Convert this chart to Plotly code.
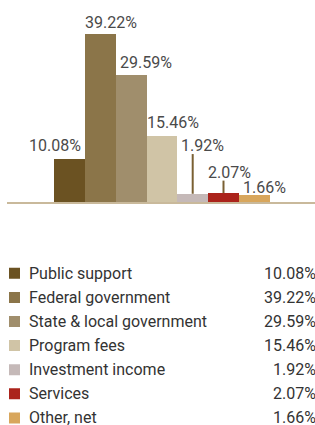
import plotly.graph_objects as go

# ---- data ----
categories = ["Public support", "Federal government", "State & local government",
              "Program fees", "Investment income", "Services", "Other, net"]
values = [10.08, 39.22, 29.59, 15.46, 1.92, 2.07, 1.66]
value_labels = ["10.08%", "39.22%", "29.59%", "15.46%", "1.92%", "2.07%", "1.66%"]

# ---- styles / layout ----
colors = ["#6b5222", "#8b7549", "#a08e6c", "#d0c4a6", "#c5b9b8", "#ab231b", "#d8a65c"]
label_xshift = [-15, 11, 15, 11, 10, 6, 10]
label_yshift = [2, 0, 1.5, 1.5, -3, -3, -4]
leader_top = [None, None, None, None, 11.2, 5.0, None]   # y (axis units) where leaders end
FONT = "Roboto"
W, H = 315, 425
base_px = 202
px_per_unit = 4.28
y_max = base_px / px_per_unit

idx = list(range(len(categories)))

fig = go.Figure()
fig.add_trace(go.Bar(
    x=idx, y=values, marker=dict(color=colors, line=dict(width=0)),
    width=1.0, hoverinfo="skip", showlegend=False, xaxis="x", yaxis="y"))

# legend squares on a second set of axes
fig.add_trace(go.Scatter(
    x=[14.5] * len(categories), y=idx, mode="markers",
    marker=dict(symbol="square", size=11, color=colors, line=dict(width=0)),
    hoverinfo="skip", showlegend=False, xaxis="x2", yaxis="y2"))

annotations = []
shapes = []
for i, (v, lab) in enumerate(zip(values, value_labels)):
    ytxt = leader_top[i] if leader_top[i] is not None else v
    annotations.append(dict(
        x=i, y=ytxt, xref="x", yref="y", text=lab, showarrow=False,
        xanchor="center", yanchor="bottom", xshift=label_xshift[i],
        yshift=label_yshift[i],
        font=dict(family=FONT, size=16, color="#4a4a4a")))
    if leader_top[i] is not None:
        shapes.append(dict(type="line", xref="x", yref="y", x0=i, x1=i, y0=v, y1=leader_top[i],
                           line=dict(color="#7a6033", width=2)))
    # legend text
    annotations.append(dict(
        x=27, y=i, xref="x2", yref="y2", text=categories[i], showarrow=False,
        xanchor="left", yanchor="middle",
        font=dict(family=FONT, size=16, color="#333333")))
    annotations.append(dict(
        x=315, y=i, xref="x2", yref="y2", text=lab, showarrow=False,
        xanchor="right", yanchor="middle", xshift=3,
        font=dict(family=FONT, size=16, color="#333333")))

# pixel geometry for axes
bar0_center = 69.5
bar_px = 30.8
x_left_px = 7
x_lo = -(bar0_center - x_left_px) / bar_px
x_hi = (W - bar0_center) / bar_px

row0 = 273.3
row_px = 24.1
leg_top_px = 212.5
y2_top = (leg_top_px - row0) / row_px
y2_bot = (H - row0) / row_px

fig.update_layout(
    width=W, height=H,
    margin=dict(l=0, r=0, t=0, b=0),
    paper_bgcolor="white", plot_bgcolor="white",
    bargap=0,
    xaxis=dict(domain=[x_left_px / W, 1], range=[x_lo, x_hi], showgrid=False,
               showticklabels=False, ticks="", zeroline=False,
               showline=True, linecolor="#c9b99b", linewidth=2, fixedrange=True),
    yaxis=dict(domain=[1 - base_px / H, 1], range=[0, y_max], showgrid=False,
               showticklabels=False, zeroline=False, showline=False, fixedrange=True),
    xaxis2=dict(domain=[0, 1], range=[0, W], visible=False, fixedrange=True, anchor="y2"),
    yaxis2=dict(domain=[0, 1 - leg_top_px / H], range=[y2_bot, y2_top], visible=False,
                fixedrange=True, anchor="x2"),
    annotations=annotations,
    shapes=shapes,
    showlegend=False,
)

fig.write_html("out.html", config={"displayModeBar": False},
               post_script="document.body.style.margin='0';document.body.style.overflow='hidden';")
